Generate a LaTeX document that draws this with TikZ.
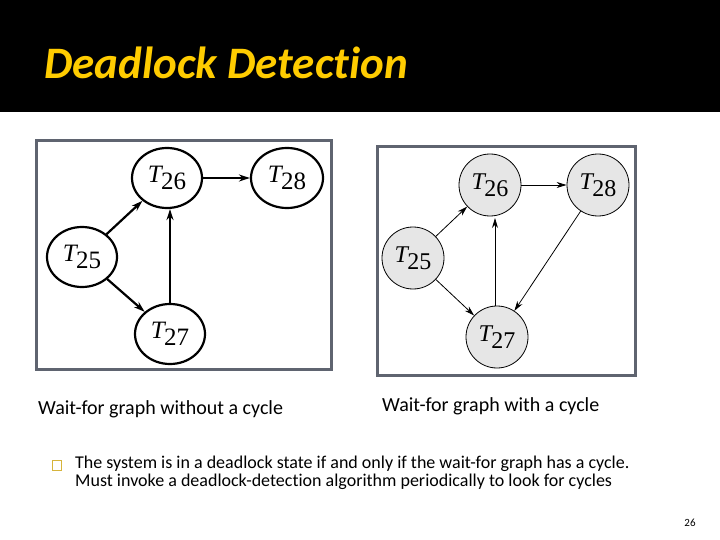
\documentclass[tikz,border=0pt]{standalone}
\usepackage{fontspec}
\setmainfont[Ligatures=NoCommon]{Carlito}
\newfontfamily\serif{Liberation Serif}
\usepackage{tikz}
\usetikzlibrary{positioning, arrows.meta, shapes.geometric}
\definecolor{titleyellow}{RGB}{255,204,0}
\definecolor{framegray}{RGB}{95,100,112}
\definecolor{nodegray}{RGB}{230,230,230}
\definecolor{bulletcol}{RGB}{214,180,60}
\newcommand{\tname}[1]{{\serif\itshape T}\kern-0.5pt\raisebox{-0.3em}{\serif #1}}

\begin{document}
\begin{tikzpicture}[x=1pt, y=-1pt,
    plain/.style={ellipse, draw=black, line width=2.2pt, fill=white,
      minimum width=70pt, minimum height=60pt, inner sep=0pt, font=\fontsize{25}{25}\selectfont},
    cyc/.style={circle, draw=black, line width=0.8pt, fill=nodegray,
      minimum size=62pt, inner sep=0pt, font=\fontsize{24}{24}\selectfont},
    thickedge/.style={line width=2.2pt, -{Stealth[length=11pt, width=7pt]}},
    thinedge/.style={line width=0.8pt, -{Stealth[length=10pt, width=6pt]}}
]
    \useasboundingbox (0,0) rectangle (720,540);
    % header
    \fill[black] (0,0) rectangle (720,112);
    \node[anchor=west, text=titleyellow, font=\fontsize{45}{45}\selectfont\bfseries\itshape] (title) at (41,63) {Deadlock Detection};

    % graph without a cycle
    \draw[framegray, line width=3pt] (36,141) rectangle (331,369);
    \node[plain] (a26) at (167,178) {\tname{26}};
    \node[plain, minimum width=72pt] (a28) at (287,178) {\tname{28}};
    \node[plain] (a25) at (82,257) {\tname{25}};
    \node[plain] (a27) at (170,334) {\tname{27}};
    \draw[thickedge] (a25) -- (a26);
    \draw[thickedge] (a25) -- (a27);
    \draw[thickedge] (a27.north) -- (a27.north |- a26.south);
    \draw[thickedge] (a26) -- (a28);

    % graph with a cycle
    \draw[framegray, line width=3pt] (377,147) rectangle (635,375);
    \node[cyc] (b26) at (490,185) {\tname{26}};
    \node[cyc] (b28) at (598,185) {\tname{28}};
    \node[cyc] (b25) at (413,258) {\tname{25}};
    \node[cyc] (b27) at (497,337) {\tname{27}};
    \draw[thinedge] (b25) -- (b26);
    \draw[thinedge] (b25) -- (b27);
    \draw[thinedge] (b27.north -| 495,0) -- (495,218);
    \draw[thinedge] (b26) -- (b28);
    \draw[thinedge] (b28) -- (b27);

    % captions
    \node[anchor=west, inner sep=0pt, font=\fontsize{20}{20}\selectfont] (capa) at (38,409) {Wait-for graph without a cycle};
    \node[anchor=west, inner sep=0pt, font=\fontsize{20}{20}\selectfont] (capb) at (382,406) {Wait-for graph with a cycle};

    % bullet text
    \draw[bulletcol, line width=0.6pt] (52,460) rectangle (61,470);
    \node[anchor=north west, align=left, inner sep=0pt, font=\fontsize{18}{18}\selectfont] (txt) at (75,456)
      {The system is in a deadlock state if and only if the wait-for graph has a cycle.\\
       Must invoke a deadlock-detection algorithm periodically to look for cycles};
    \node[font=\fontsize{11}{11}\selectfont] (page) at (690,523) {26};
\end{tikzpicture}
\end{document}
